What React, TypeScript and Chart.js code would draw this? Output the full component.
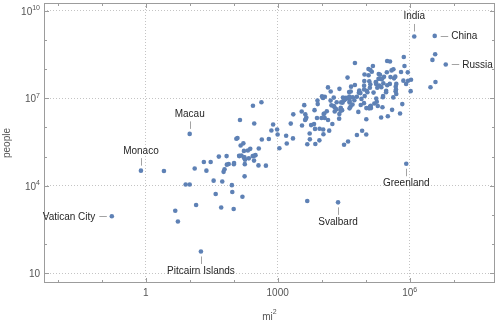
import { useEffect, useRef } from "react";
import { Chart, registerables } from "chart.js";

Chart.register(...registerables);

// ---------------- data ----------------
const countries = [
  "Afghanistan", "Albania", "Algeria", "American Samoa", "Andorra", "Angola", "Anguilla", "Antigua and Barbuda",
  "Argentina", "Armenia", "Aruba", "Australia", "Austria", "Azerbaijan", "Bahamas", "Bahrain",
  "Bangladesh", "Barbados", "Belarus", "Belgium", "Belize", "Benin", "Bermuda", "Bhutan",
  "Bolivia", "Bosnia and Herzegovina", "Botswana", "Brazil", "British Virgin Islands", "Brunei", "Bulgaria", "Burkina Faso",
  "Burundi", "Cambodia", "Cameroon", "Canada", "Cape Verde", "Cayman Islands", "Central African Republic", "Chad",
  "Chile", "China", "Christmas Island", "Cocos Islands", "Colombia", "Comoros", "DR Congo", "Republic of the Congo",
  "Cook Islands", "Costa Rica", "Ivory Coast", "Croatia", "Cuba", "Curaçao", "Cyprus", "Czech Republic",
  "Denmark", "Djibouti", "Dominica", "Dominican Republic", "East Timor", "Ecuador", "Egypt", "El Salvador",
  "Equatorial Guinea", "Eritrea", "Estonia", "Ethiopia", "Falkland Islands", "Faroe Islands", "Fiji", "Finland",
  "France", "French Guiana", "French Polynesia", "Gabon", "Gambia", "Georgia", "Germany", "Ghana",
  "Gibraltar", "Greece", "Greenland", "Grenada", "Guadeloupe", "Guam", "Guatemala", "Guernsey",
  "Guinea", "Guinea-Bissau", "Guyana", "Haiti", "Honduras", "Hong Kong", "Hungary", "Iceland",
  "India", "Indonesia", "Iran", "Iraq", "Ireland", "Isle of Man", "Israel", "Italy",
  "Jamaica", "Japan", "Jersey", "Jordan", "Kazakhstan", "Kenya", "Kiribati", "North Korea",
  "South Korea", "Kosovo", "Kuwait", "Kyrgyzstan", "Laos", "Latvia", "Lebanon", "Lesotho",
  "Liberia", "Libya", "Liechtenstein", "Lithuania", "Luxembourg", "Macau", "Macedonia", "Madagascar",
  "Malawi", "Malaysia", "Maldives", "Mali", "Malta", "Marshall Islands", "Martinique", "Mauritania",
  "Mauritius", "Mayotte", "Mexico", "Micronesia", "Moldova", "Monaco", "Mongolia", "Montenegro",
  "Montserrat", "Morocco", "Mozambique", "Myanmar", "Namibia", "Nauru", "Nepal", "Netherlands",
  "New Caledonia", "New Zealand", "Nicaragua", "Niger", "Nigeria", "Niue", "Norfolk Island", "Northern Mariana Islands",
  "Norway", "Oman", "Pakistan", "Palau", "Panama", "Papua New Guinea", "Paraguay", "Peru",
  "Philippines", "Pitcairn Islands", "Poland", "Portugal", "Puerto Rico", "Qatar", "Réunion", "Romania",
  "Russia", "Rwanda", "Saint Helena", "Saint Kitts and Nevis", "Saint Lucia", "Saint Pierre and Miquelon", "Saint Vincent", "Samoa",
  "San Marino", "São Tomé and Príncipe", "Saudi Arabia", "Senegal", "Serbia", "Seychelles", "Sierra Leone", "Singapore",
  "Sint Maarten", "Slovakia", "Slovenia", "Solomon Islands", "Somalia", "South Africa", "South Sudan", "Spain",
  "Sri Lanka", "Sudan", "Suriname", "Svalbard", "Swaziland", "Sweden", "Switzerland", "Syria",
  "Taiwan", "Tajikistan", "Tanzania", "Thailand", "Togo", "Tokelau", "Tonga", "Trinidad and Tobago",
  "Tunisia", "Turkey", "Turkmenistan", "Turks and Caicos Islands", "Tuvalu", "Uganda", "Ukraine", "United Arab Emirates",
  "United Kingdom", "United States", "Uruguay", "US Virgin Islands", "Uzbekistan", "Vanuatu", "Vatican City", "Venezuela",
  "Vietnam", "Wallis and Futuna", "West Bank", "Gaza Strip", "Western Sahara", "Yemen", "Zambia", "Zimbabwe",
];

// area in square miles
const areaMi2 = [
  251827, 11100, 919595, 77, 181, 481354, 35, 171,
  1073518, 11484, 69, 2969907, 32386, 33436, 5382, 293,
  56977, 166, 80155, 11787, 8867, 43484, 21, 14824,
  424164, 19772, 224607, 3287612, 59, 2226, 42858, 105869,
  10745, 69898, 183569, 3855103, 1557, 102, 240535, 495755,
  291933, 3705407, 52, 5.4, 440831, 719, 905355, 132047,
  91, 19730, 124504, 21851, 42426, 171, 3572, 30451,
  16639, 8958, 290, 18792, 5743, 109484, 386662, 8124,
  10831, 45406, 17463, 426373, 4700, 540, 7056, 130559,
  211209, 32253, 1609, 103347, 4363, 26911, 137847, 92098,
  2.6, 50949, 836330, 133, 629, 210, 42042, 30,
  94926, 13948, 83000, 10714, 43278, 427, 35919, 39769,
  1269219, 735358, 636372, 169235, 27133, 221, 8019, 116348,
  4244, 145914, 46, 34495, 1052090, 224081, 313, 46540,
  38691, 4203, 6880, 77202, 91429, 24938, 4015, 11720,
  43000, 679362, 62, 25212, 998, 10, 9928, 226658,
  45747, 127355, 115, 478841, 122, 70, 436, 397955,
  788, 144, 761610, 271, 13070, 0.78, 603909, 5333,
  39, 172414, 308642, 261228, 318696, 8.1, 56827, 16040,
  7172, 103483, 50193, 489191, 356669, 100, 14, 179,
  125021, 119499, 307374, 177, 29120, 178704, 157048, 496225,
  115831, 18, 120728, 35556, 3515, 4473, 970, 92043,
  6601670, 10169, 158, 101, 238, 93, 150, 1093,
  24, 372, 830000, 75955, 29913, 176, 27699, 274,
  13, 18932, 7827, 10954, 246201, 471011, 248777, 195364,
  25332, 718723, 63251, 23561, 6704, 173860, 15940, 71498,
  13892, 55251, 365755, 198117, 21925, 4.7, 289, 1981,
  63170, 302535, 188456, 366, 10, 93065, 233062, 32278,
  94058, 3794101, 68037, 134, 172742, 4706, 0.17, 353841,
  127881, 55, 2263, 139, 103000, 203850, 290587, 150872,
];

// population (people)
const population = [
  32.5e6, 2.9e6, 39.7e6, 55.5e3, 78e3, 25e6, 15e3, 92e3,
  43e6, 3.0e6, 104e3, 23.8e6, 8.6e6, 9.6e6, 390e3, 1.37e6,
  161e6, 284e3, 9.5e6, 11.3e6, 360e3, 10.6e6, 65e3, 775e3,
  10.7e6, 3.5e6, 2.2e6, 206e6, 30e3, 420e3, 7.2e6, 18e6,
  10.2e6, 15.5e6, 23e6, 35.9e6, 520e3, 60e3, 4.9e6, 14e6,
  17.9e6, 1.37e9, 1.8e3, 600, 48e6, 780e3, 77e6, 4.6e6,
  10.5e3, 4.8e6, 23e6, 4.2e6, 11.4e6, 157e3, 1.16e6, 10.5e6,
  5.7e6, 900e3, 73e3, 10.5e6, 1.2e6, 16.1e6, 90e6, 6.3e6,
  850e3, 5.2e6, 1.31e6, 99e6, 3e3, 49e3, 890e3, 5.5e6,
  64e6, 255e3, 280e3, 1.9e6, 2e6, 3.7e6, 81e6, 27e6,
  32e3, 10.8e6, 57e3, 107e3, 400e3, 162e3, 16.3e6, 65e3,
  12e6, 1.8e6, 770e3, 10.7e6, 8.1e6, 7.3e6, 9.8e6, 330e3,
  1.31e9, 258e6, 79e6, 36e6, 4.7e6, 87e3, 8.4e6, 61e6,
  2.8e6, 127e6, 100e3, 9.2e6, 17.5e6, 46e6, 112e3, 25e6,
  51e6, 1.8e6, 3.9e6, 5.9e6, 6.8e6, 2.0e6, 5.8e6, 2.1e6,
  4.5e6, 6.3e6, 37e3, 2.9e6, 570e3, 600e3, 2.1e6, 24e6,
  17e6, 30e6, 410e3, 17.5e6, 430e3, 53e3, 385e3, 4e6,
  1.26e6, 240e3, 127e6, 104e3, 3.6e6, 33e3, 3e6, 620e3,
  5.2e3, 34e6, 28e6, 54e6, 2.4e6, 11e3, 28.5e6, 17e6,
  270e3, 4.6e6, 6.1e6, 20e6, 182e6, 1.6e3, 2.2e3, 55e3,
  5.2e6, 4.5e6, 189e6, 21e3, 3.9e6, 7.6e6, 6.6e6, 31e6,
  101e6, 56, 38e6, 10.4e6, 3.5e6, 2.2e6, 850e3, 20e6,
  144e6, 11.6e6, 4.2e3, 55e3, 184e3, 6.1e3, 109e3, 193e3,
  33e3, 190e3, 31e6, 15e6, 7.1e6, 94e3, 7.2e6, 5.5e6,
  39e3, 5.4e6, 2.1e6, 580e3, 10.8e6, 55e6, 12e6, 46e6,
  21e6, 40e6, 550e3, 2.7e3, 1.3e6, 9.8e6, 8.3e6, 18.5e6,
  23.5e6, 8.5e6, 53e6, 68e6, 7.3e6, 1.4e3, 106e3, 1.35e6,
  11.2e6, 78e6, 5.4e6, 50e3, 11e3, 39e6, 45e6, 9.2e6,
  65e6, 321e6, 3.4e6, 104e3, 31e6, 265e3, 900, 31e6,
  92e6, 14e3, 2.8e6, 1.8e6, 570e3, 27e6, 16e6, 15.6e6,
];

// ticks (decade exponents) and which of them carry labels
const xTickExponents = [-2, -1, 0, 1, 2, 3, 4, 5, 6, 7];
const xLabelExponents = [0, 3, 6];
const yTickExponents = [1, 2, 3, 4, 5, 6, 7, 8, 9, 10];
const yLabelExponents = [1, 4, 7, 10];

const calloutNames = ["India", "China", "Russia", "Greenland", "Svalbard", "Pitcairn Islands", "Vatican City", "Monaco", "Macau"];

const xTitle = "mi";
const xTitleSup = "2";
const yTitle = "people";

// ---------------- styling / layout ----------------
const X_LOG_MIN = -2.311;
const X_LOG_MAX = 7.939;
const Y_LOG_MIN = 0.668;
const Y_LOG_MAX = 10.264;

const POINT_COLOR = "#5e81b5";
const FRAME_COLOR = "#9c9c9c";
const GRID_COLOR = "#c4c4c4";
const TICK_TEXT = "#555555";
const LABEL_TEXT = "#262626";
const LEADER_COLOR = "#a3a3a3";
const FONT = "Liberation Sans, Arial, sans-serif";

const calloutSide: Record<string, string> = {
  India: "up",
  China: "right",
  Russia: "right",
  Greenland: "down",
  Svalbard: "down",
  "Pitcairn Islands": "down",
  "Vatican City": "left",
  Monaco: "up",
  Macau: "up",
};

function labelParts(exp: number): [string, string] {
  if (exp === 0) return ["1", ""];
  if (exp === 1) return ["10", ""];
  if (exp === 3) return ["1000", ""];
  return ["10", String(exp)];
}

function drawPowerLabel(ctx: CanvasRenderingContext2D, exp: number, x: number, baseline: number, align: "center" | "right") {
  const [main, sup] = labelParts(exp);
  ctx.font = `10px ${FONT}`;
  const w1 = ctx.measureText(main).width;
  ctx.font = `7px ${FONT}`;
  const w2 = sup ? ctx.measureText(sup).width : 0;
  const total = w1 + w2;
  const start = align === "center" ? x - total / 2 : x - total;
  ctx.textAlign = "left";
  ctx.textBaseline = "alphabetic";
  ctx.font = `10px ${FONT}`;
  ctx.fillText(main, start, baseline);
  if (sup) {
    ctx.font = `7px ${FONT}`;
    ctx.fillText(sup, start + w1, baseline - 4.5);
  }
}

const decorPlugin = {
  id: "decor",
  afterDraw(chart: any) {
    const ctx: CanvasRenderingContext2D = chart.ctx;
    const { left, right, top, bottom } = chart.chartArea;
    const xs = chart.scales.x;
    const ys = chart.scales.y;
    ctx.save();

    // frame
    ctx.strokeStyle = FRAME_COLOR;
    ctx.lineWidth = 1;
    ctx.strokeRect(Math.round(left) + 0.5, Math.round(top) + 0.5, Math.round(right) - Math.round(left) - 1, Math.round(bottom) - Math.round(top) - 1);

    // inward ticks
    ctx.beginPath();
    for (const e of xTickExponents) {
      const px = Math.round(xs.getPixelForValue(Math.pow(10, e))) + 0.5;
      const len = xLabelExponents.includes(e) ? 5 : 3;
      ctx.moveTo(px, bottom);
      ctx.lineTo(px, bottom - len);
      ctx.moveTo(px, top);
      ctx.lineTo(px, top + len);
    }
    for (const e of yTickExponents) {
      const py = Math.round(ys.getPixelForValue(Math.pow(10, e))) + 0.5;
      const len = yLabelExponents.includes(e) ? 5 : 3;
      ctx.moveTo(left, py);
      ctx.lineTo(left + len, py);
      ctx.moveTo(right, py);
      ctx.lineTo(right - len, py);
    }
    ctx.stroke();

    // tick labels
    ctx.fillStyle = TICK_TEXT;
    for (const e of xLabelExponents) {
      const px = xs.getPixelForValue(Math.pow(10, e));
      drawPowerLabel(ctx, e, px, bottom + 13, "center");
    }
    for (const e of yLabelExponents) {
      const py = ys.getPixelForValue(Math.pow(10, e));
      drawPowerLabel(ctx, e, left - 4, py + 4, "right");
    }

    // axis titles
    ctx.fillStyle = TICK_TEXT;
    ctx.font = `10px ${FONT}`;
    const wMain = ctx.measureText(xTitle).width;
    ctx.font = `7px ${FONT}`;
    const wSup = ctx.measureText(xTitleSup).width;
    const cx = (left + right) / 2;
    const sx = cx - (wMain + wSup) / 2;
    ctx.textAlign = "left";
    ctx.textBaseline = "alphabetic";
    ctx.font = `10px ${FONT}`;
    ctx.fillText(xTitle, sx, 319.5);
    ctx.font = `7px ${FONT}`;
    ctx.fillText(xTitleSup, sx + wMain, 313.5);

    ctx.save();
    ctx.translate(9.5, (top + bottom) / 2);
    ctx.rotate(-Math.PI / 2);
    ctx.font = `10px ${FONT}`;
    ctx.textAlign = "center";
    ctx.fillText(yTitle, 0, 0);
    ctx.restore();

    // callouts
    ctx.font = `10px ${FONT}`;
    for (const name of calloutNames) {
      const i = countries.indexOf(name);
      if (i < 0) continue;
      const px = xs.getPixelForValue(areaMi2[i]);
      const py = ys.getPixelForValue(population[i]);
      const side = calloutSide[name];
      ctx.strokeStyle = LEADER_COLOR;
      ctx.lineWidth = 1;
      ctx.beginPath();
      ctx.fillStyle = LABEL_TEXT;
      ctx.textBaseline = "alphabetic";
      if (side === "up") {
        const lx = Math.round(px) + 0.5;
        ctx.moveTo(lx, py - 5);
        ctx.lineTo(lx, py - 12.5);
        ctx.stroke();
        ctx.textAlign = "center";
        ctx.fillText(name, px, py - 17);
      } else if (side === "down") {
        const lx = Math.round(px) + 0.5;
        ctx.moveTo(lx, py + 5);
        ctx.lineTo(lx, py + 12.5);
        ctx.stroke();
        ctx.textAlign = "center";
        ctx.fillText(name, px, py + 22.3);
      } else if (side === "right") {
        const ly = Math.round(py) + 0.5;
        ctx.moveTo(px + 6, ly);
        ctx.lineTo(px + 13.5, ly);
        ctx.stroke();
        ctx.textAlign = "left";
        ctx.fillText(name, px + 16.5, py + 3.6);
      } else {
        const ly = Math.round(py) + 0.5;
        ctx.moveTo(px - 5, ly);
        ctx.lineTo(px - 12.5, ly);
        ctx.stroke();
        ctx.textAlign = "right";
        ctx.fillText(name, px - 16.5, py + 3.6);
      }
    }
    ctx.restore();
  },
};

export default function App() {
  const canvasRef = useRef<HTMLCanvasElement | null>(null);

  useEffect(() => {
    const canvas = canvasRef.current;
    if (!canvas) return;
    const points = countries.map((_, i) => ({ x: areaMi2[i], y: population[i] }));

    const chart = new Chart(canvas, {
      type: "scatter",
      data: {
        datasets: [
          {
            data: points,
            backgroundColor: POINT_COLOR,
            borderWidth: 0,
            pointRadius: 2.3,
            pointHoverRadius: 2.3,
          },
        ],
      },
      options: {
        animation: false,
        responsive: false,
        devicePixelRatio: 1,
        events: [],
        layout: { padding: { left: 44, right: 5, top: 3, bottom: 42 } },
        plugins: { legend: { display: false }, tooltip: { enabled: false } },
        scales: {
          x: {
            type: "logarithmic",
            min: Math.pow(10, X_LOG_MIN),
            max: Math.pow(10, X_LOG_MAX),
            bounds: "data",
            afterBuildTicks: (scale: any) => {
              scale.ticks = xTickExponents.map((e) => ({ value: Math.pow(10, e) }));
            },
            ticks: { display: false },
            grid: {
              drawTicks: false,
              lineWidth: 1,
              color: (c: any) => {
                const v = c.tick ? Math.round(Math.log10(c.tick.value)) : NaN;
                return xLabelExponents.includes(v) ? GRID_COLOR : "rgba(0,0,0,0)";
              },
            },
            border: { display: false, dash: [1, 2] },
          },
          y: {
            type: "logarithmic",
            min: Math.pow(10, Y_LOG_MIN),
            max: Math.pow(10, Y_LOG_MAX),
            bounds: "data",
            afterBuildTicks: (scale: any) => {
              scale.ticks = yTickExponents.map((e) => ({ value: Math.pow(10, e) }));
            },
            ticks: { display: false },
            grid: {
              drawTicks: false,
              lineWidth: 1,
              color: (c: any) => {
                const v = c.tick ? Math.round(Math.log10(c.tick.value)) : NaN;
                return yLabelExponents.includes(v) ? GRID_COLOR : "rgba(0,0,0,0)";
              },
            },
            border: { display: false, dash: [1, 2] },
          },
        },
      },
      plugins: [decorPlugin],
    });

    return () => chart.destroy();
  }, []);

  return (
    <div style={{ position: "absolute", left: 0, top: 0, width: 500, height: 325, background: "#fff" }}>
      <canvas ref={canvasRef} width={500} height={325} style={{ display: "block" }} />
    </div>
  );
}
